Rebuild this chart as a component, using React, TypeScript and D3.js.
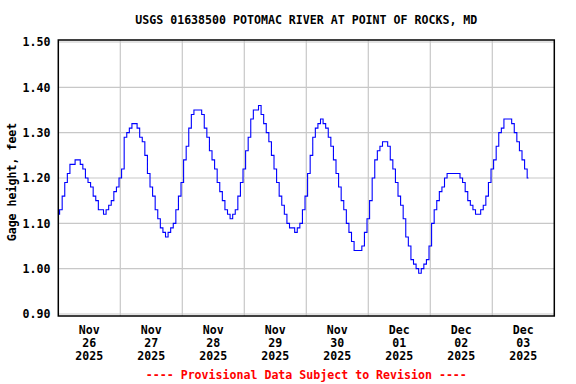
import React from "react";
import * as d3 from "d3";

// Hourly gage height readings (feet), one array per day starting at 00:00
const nov26 = [1.12,1.13,1.16,1.19,1.21,1.23,1.23,1.24,1.24,1.23,1.22,1.20,1.19,1.18,1.16,1.15,1.13,1.13,1.12,1.13,1.14,1.15,1.17,1.18];
const nov27 = [1.20,1.22,1.29,1.30,1.31,1.32,1.32,1.31,1.29,1.28,1.25,1.21,1.18,1.16,1.13,1.11,1.09,1.08,1.07,1.08,1.09,1.10,1.13,1.16];
const nov28 = [1.19,1.24,1.27,1.31,1.34,1.35,1.35,1.35,1.34,1.31,1.29,1.26,1.24,1.22,1.19,1.17,1.15,1.13,1.12,1.11,1.12,1.13,1.16,1.19];
const nov29 = [1.22,1.26,1.29,1.33,1.35,1.35,1.36,1.34,1.32,1.30,1.28,1.25,1.22,1.19,1.16,1.14,1.12,1.10,1.09,1.09,1.08,1.09,1.10,1.13];
const nov30 = [1.16,1.21,1.25,1.29,1.31,1.32,1.33,1.32,1.31,1.29,1.27,1.24,1.21,1.18,1.15,1.13,1.10,1.08,1.06,1.04,1.04,1.04,1.05,1.08];
const dec01 = [1.11,1.15,1.20,1.24,1.26,1.27,1.28,1.28,1.27,1.24,1.22,1.19,1.16,1.14,1.11,1.07,1.05,1.02,1.01,1.00,0.99,1.00,1.01,1.02];
const dec02 = [1.05,1.10,1.13,1.15,1.17,1.18,1.20,1.21,1.21,1.21,1.21,1.21,1.20,1.19,1.17,1.15,1.14,1.13,1.12,1.12,1.13,1.14,1.16,1.19];
const dec03 = [1.22,1.24,1.27,1.30,1.31,1.33,1.33,1.33,1.32,1.30,1.28,1.26,1.24,1.22,1.20];

const days = [nov26, nov27, nov28, nov29, nov30, dec01, dec02, dec03];
const dayLabels = [
  ["Nov", "26", "2025"],
  ["Nov", "27", "2025"],
  ["Nov", "28", "2025"],
  ["Nov", "29", "2025"],
  ["Nov", "30", "2025"],
  ["Dec", "01", "2025"],
  ["Dec", "02", "2025"],
  ["Dec", "03", "2025"],
];
const yTicks = [0.9, 1.0, 1.1, 1.2, 1.3, 1.4, 1.5];
const title = "USGS 01638500 POTOMAC RIVER AT POINT OF ROCKS, MD";
const yTitle = "Gage height, feet";
const footer = "---- Provisional Data Subject to Revision ----";

const W = 576, H = 384;
const left = 58.3, right = 554.3, top = 42, bottom = 314;
const FONT = "'DejaVu Sans Mono', monospace";

export default function App() {
  const x = d3.scaleLinear().domain([0, 24 * days.length]).range([left, right]);
  const y = d3.scaleLinear().domain([0.9, 1.5]).range([bottom, top]);

  const points: [number, number][] = [];
  days.forEach((arr, d) => arr.forEach((v, h) => points.push([d * 24 + h, v])));
  const line = d3
    .line<[number, number]>()
    .x((p) => x(p[0]))
    .y((p) => y(p[1]))
    .curve(d3.curveStep);

  const dayGrid = d3.range(1, days.length);

  return (
    <svg
      width={W}
      height={H}
      style={{ position: "absolute", left: 0, top: 0, display: "block", background: "#fff" }}
      fontFamily={FONT}
      fontWeight="bold"
      fontSize={11.6}
    >
      <rect x={0} y={0} width={W} height={H} fill="#fff" />
      {yTicks.map((t) => (
        <line key={"gy" + t} x1={left} x2={right} y1={y(t)} y2={y(t)} stroke="#c8c8c8" strokeWidth={1.2} />
      ))}
      {dayGrid.map((d) => (
        <line key={"gx" + d} x1={x(d * 24)} x2={x(d * 24)} y1={40} y2={316} stroke="#c8c8c8" strokeWidth={1.2} />
      ))}
      <path d={line(points) || ""} fill="none" stroke="#0000ff" strokeWidth={1.1} />
      <rect x={left} y={40} width={right - left} height={316 - 40} fill="none" stroke="#000" strokeWidth={1.5} />
      {yTicks.map((t) => (
        <text key={"ty" + t} x={50.5} y={y(t) + 4.3} textAnchor="end" fill="#000">
          {t.toFixed(2)}
        </text>
      ))}
      {dayLabels.map((lab, d) =>
        lab.map((s, i) => (
          <text key={"tx" + d + i} x={x(d * 24 + 12)} y={334 + i * 12.9} textAnchor="middle" fill="#000">
            {s}
          </text>
        ))
      )}
      <text x={(left + right) / 2} y={24} textAnchor="middle" fill="#000">
        {title}
      </text>
      <text
        transform={`translate(15.5, ${(top + bottom) / 2 + 4}) rotate(-90)`}
        textAnchor="middle"
        fill="#000"
      >
        {yTitle}
      </text>
      <text x={(left + right) / 2} y={379} textAnchor="middle" fill="#ff0000">
        {footer}
      </text>
    </svg>
  );
}
